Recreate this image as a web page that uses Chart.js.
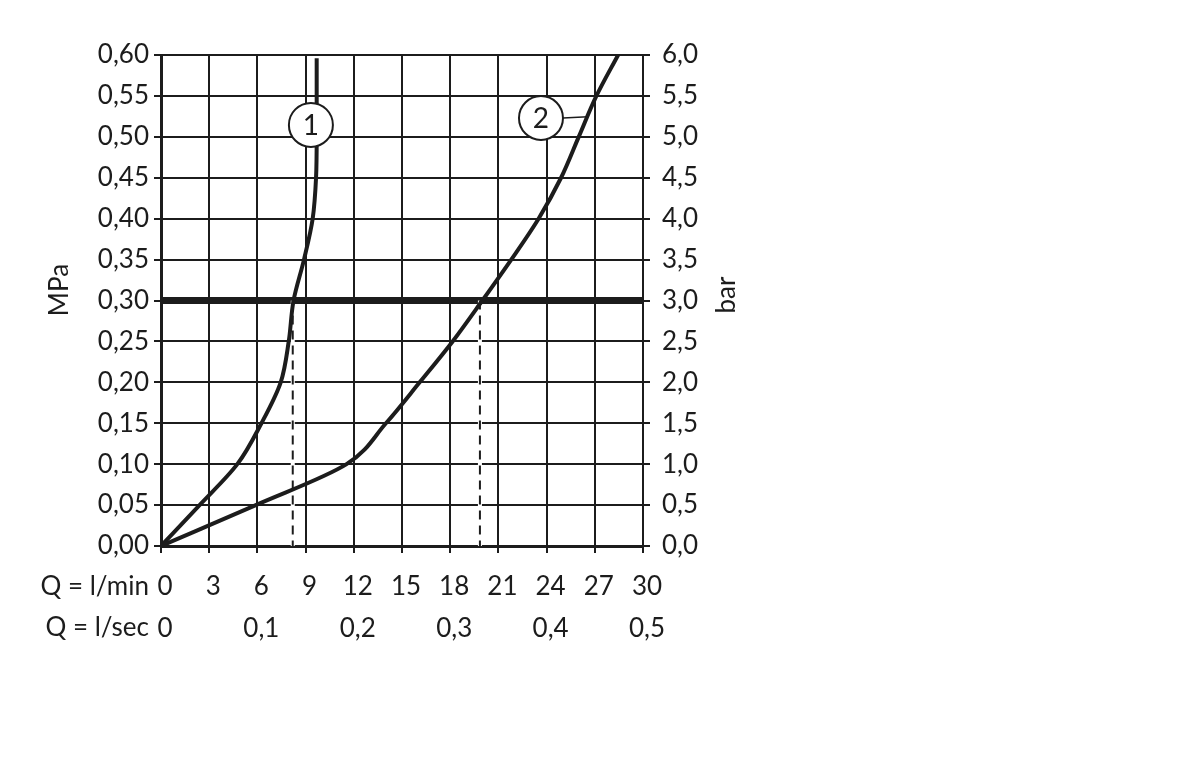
<!DOCTYPE html>
<html>
<head>
<meta charset="utf-8">
<script src="https://cdn.jsdelivr.net/npm/chart.js@4.4.1/dist/chart.umd.min.js"></script>
<style>
  html, body { margin: 0; padding: 0; background: #fff; }
  #wrap { width: 1200px; height: 765px; }
</style>
</head>
<body>
<div id="wrap"><canvas id="grafico" width="1200" height="765"></canvas></div>
<script>
// ejes
const flujoMin = [0, 3, 6, 9, 12, 15, 18, 21, 24, 27, 30];
const flujoMinEtiquetas = ['0', '3', '6', '9', '12', '15', '18', '21', '24', '27', '30'];
const flujoSeg = [0, 0.1, 0.2, 0.3, 0.4, 0.5];
const flujoSegEtiquetas = ['0', '0,1', '0,2', '0,3', '0,4', '0,5'];
const presionMPa = [0, 0.05, 0.10, 0.15, 0.20, 0.25, 0.30, 0.35, 0.40, 0.45, 0.50, 0.55, 0.60];
const presionMPaEtiquetas = ['0,00', '0,05', '0,10', '0,15', '0,20', '0,25', '0,30', '0,35', '0,40', '0,45', '0,50', '0,55', '0,60'];
const presionBar = [0, 0.5, 1, 1.5, 2, 2.5, 3, 3.5, 4, 4.5, 5, 5.5, 6];
const presionBarEtiquetas = ['0,0', '0,5', '1,0', '1,5', '2,0', '2,5', '3,0', '3,5', '4,0', '4,5', '5,0', '5,5', '6,0'];

// curva 1
const curva1Flujo = [0, 2.4, 4.75, 6.25, 7.45, 7.95, 8.25, 8.9, 9.44, 9.65, 9.69, 9.69];
const curva1Presion = [0, 0.05, 0.10, 0.15, 0.20, 0.25, 0.30, 0.35, 0.40, 0.45, 0.50, 0.596];
// curva 2
const curva2Flujo = [0, 5.9, 11.55, 14.0, 16.1, 18.15, 20.0, 21.8, 23.5, 24.9, 26.0, 27.1, 28.45];
const curva2Presion = [0, 0.05, 0.10, 0.15, 0.20, 0.25, 0.30, 0.35, 0.40, 0.45, 0.50, 0.55, 0.60];

// presion de referencia y caudales leidos
const presionRef = 0.30;
const caudalesRef = [8.2, 19.85];

// marcas numeradas y punto final de la guia
const marcas = [
  { texto: '1', x: 9.33, y: 0.5145, guia: null },
  { texto: '2', x: 23.65, y: 0.523, guia: [26.57, 0.5245] }
];

const tinta = '#1c1c1c';
const fuente = 'Lato, "DejaVu Sans", sans-serif';
const tamano = 26;

function puntos(xs, ys){
  return xs.map((x, i) => ({ x: x, y: ys[i] }));
}

// en orden de dibujo (el primero queda abajo)
let capas = [
  {
    data: [{ x: 0, y: presionRef }, { x: 30, y: presionRef }],
    borderColor: tinta, borderWidth: 7, pointRadius: 0, tension: 0
  }
];
caudalesRef.forEach(q => {
  capas.push({
    data: [{ x: q, y: presionRef }, { x: q, y: 0 }],
    borderColor: '#fff', borderWidth: 4, pointRadius: 0, tension: 0
  });
  capas.push({
    data: [{ x: q, y: presionRef }, { x: q, y: 0 }],
    borderColor: tinta, borderWidth: 2, borderDash: [9, 6], pointRadius: 0, tension: 0
  });
});
// las curvas suben siempre: se suavizan sobre el eje de presion
capas.push({
  data: puntos(curva1Flujo, curva1Presion), indexAxis: 'y',
  borderColor: tinta, borderWidth: 4, pointRadius: 0, cubicInterpolationMode: 'monotone'
});
capas.push({
  data: puntos(curva2Flujo, curva2Presion), indexAxis: 'y',
  borderColor: tinta, borderWidth: 4, pointRadius: 0, cubicInterpolationMode: 'monotone'
});
// Chart.js pinta el primer dataset encima
const datasets = capas.reverse();

const textosExtra = {
  id: 'textosExtra',
  afterDatasetsDraw(chart){
    const ctx = chart.ctx;
    const sx = chart.scales.x, sy = chart.scales.y;
    ctx.save();
    marcas.forEach(m => {
      const cx = sx.getPixelForValue(m.x), cy = sy.getPixelForValue(m.y);
      if(m.guia){
        ctx.beginPath();
        ctx.moveTo(cx + 22, cy);
        ctx.lineTo(sx.getPixelForValue(m.guia[0]), sy.getPixelForValue(m.guia[1]));
        ctx.lineWidth = 1.5;
        ctx.strokeStyle = tinta;
        ctx.stroke();
      }
      ctx.beginPath();
      ctx.arc(cx, cy, 22, 0, Math.PI * 2);
      ctx.fillStyle = '#fff';
      ctx.fill();
      ctx.lineWidth = 2;
      ctx.strokeStyle = tinta;
      ctx.stroke();
      ctx.fillStyle = tinta;
      ctx.font = '28px ' + fuente;
      ctx.textAlign = 'center';
      ctx.textBaseline = 'middle';
      ctx.fillText(m.texto, cx, cy + 1);
    });

    ctx.font = tamano + 'px ' + fuente;
    ctx.fillStyle = tinta;
    ctx.textAlign = 'right';
    ctx.textBaseline = 'middle';
    ctx.fillText('Q = l/min', 149, 587);
    ctx.fillText('Q = l/sec', 149, 628);

    ctx.textAlign = 'center';
    ctx.save();
    ctx.translate(60, 290);
    ctx.rotate(-Math.PI / 2);
    ctx.fillText('MPa', 0, 0);
    ctx.restore();
    ctx.save();
    ctx.translate(727, 295);
    ctx.rotate(-Math.PI / 2);
    ctx.fillText('bar', 0, 0);
    ctx.restore();
    ctx.restore();
  }
};

const fijar = (valores) => (scale) => { scale.ticks = valores.map(v => ({ value: v })); };

new Chart(document.getElementById('grafico'), {
  type: 'line',
  data: { datasets: datasets },
  plugins: [textosExtra],
  options: {
    responsive: false,
    animation: false,
    events: [],
    layout: { padding: { top: 55, bottom: 119, left: 0, right: 0 } },
    plugins: { legend: { display: false }, tooltip: { enabled: false } },
    scales: {
      x: {
        type: 'linear', position: 'bottom', min: 0, max: 30, weight: 0,
        afterBuildTicks: fijar(flujoMin),
        afterFit: (s) => { s.height = 62; },
        grid: { color: tinta, lineWidth: 2, drawTicks: true, tickLength: 7, tickColor: tinta },
        border: { color: tinta, width: 3 },
        ticks: { color: tinta, font: { size: tamano, family: fuente }, padding: 18, maxRotation: 0,
          labelOffset: 4, callback: (v, i) => flujoMinEtiquetas[i] }
      },
      x2: {
        type: 'linear', position: 'bottom', min: 0, max: 0.5, weight: 1,
        afterBuildTicks: fijar(flujoSeg),
        afterFit: (s) => { s.height = 38; },
        grid: { display: false, drawTicks: false },
        border: { display: false },
        ticks: { color: tinta, font: { size: tamano, family: fuente }, padding: 5, maxRotation: 0,
          labelOffset: 4, callback: (v, i) => flujoSegEtiquetas[i] }
      },
      y: {
        type: 'linear', position: 'left', min: 0, max: 0.6,
        afterBuildTicks: fijar(presionMPa),
        afterFit: (s) => { s.width = 161; },
        grid: { color: tinta, lineWidth: 2, drawTicks: true, tickLength: 7, tickColor: tinta },
        border: { color: tinta, width: 3 },
        ticks: { color: tinta, font: { size: tamano, family: fuente }, padding: 5,
          callback: (v, i) => presionMPaEtiquetas[i] }
      },
      y2: {
        type: 'linear', position: 'right', min: 0, max: 6,
        afterBuildTicks: fijar(presionBar),
        afterFit: (s) => { s.width = 557; },
        grid: { drawOnChartArea: false, drawTicks: true, tickLength: 7, color: tinta, lineWidth: 2 },
        border: { color: tinta, width: 2 },
        ticks: { color: tinta, font: { size: tamano, family: fuente }, padding: 12,
          callback: (v, i) => presionBarEtiquetas[i] }
      }
    }
  }
});
</script>
</body>
</html>
